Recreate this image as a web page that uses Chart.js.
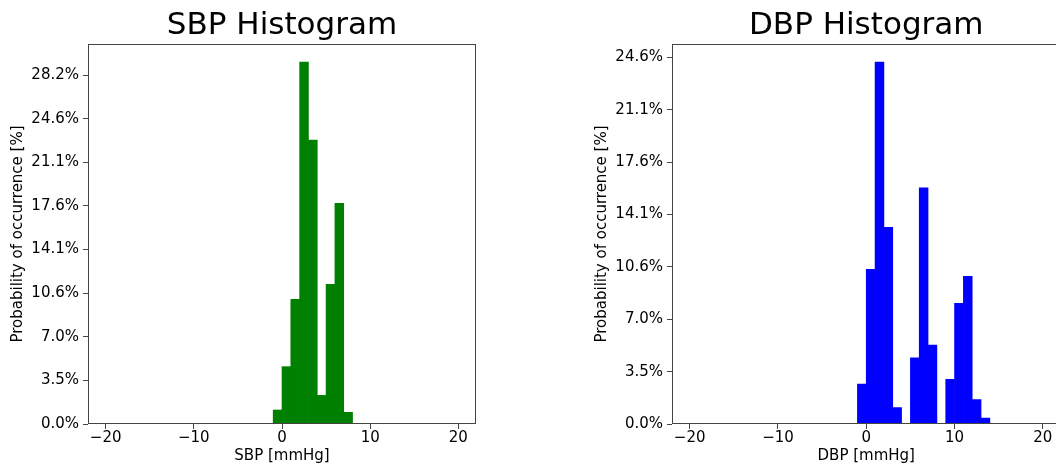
<!DOCTYPE html>
<html>
<head>
<meta charset="utf-8">
<script src="https://cdn.jsdelivr.net/npm/chart.js@4.4.1/dist/chart.umd.min.js"></script>
<style>
html,body{margin:0;padding:0;background:#fff;overflow:hidden;}
#wrap{position:relative;width:1056px;height:467px;overflow:hidden;}
#c1box{position:absolute;left:0;top:0;width:528px;height:467px;}
#c2box{position:absolute;left:584px;top:0;width:480px;height:467px;}
</style>
</head>
<body>
<div id="wrap">
<div id="c1box"><canvas id="c1"></canvas></div>
<div id="c2box"><canvas id="c2"></canvas></div>
</div>
<script>
// ---- data ----
const sbpBinCenters = [-0.5, 0.5, 1.5, 2.5, 3.5, 4.5, 5.5, 6.5, 7.5];
const sbpValues = [1.13, 4.63, 10.06, 29.22, 22.92, 2.31, 11.27, 17.81, 0.94];

const dbpBinCenters = [-0.5, 0.5, 1.5, 2.5, 3.5, 4.5, 5.5, 6.5, 7.5, 8.5, 9.5, 10.5, 11.5, 12.5, 13.5];
const dbpValues = [2.69, 10.39, 24.33, 13.22, 1.10, 0, 4.44, 15.88, 5.31, 0, 3.00, 8.11, 9.92, 1.64, 0.40];

const xTickValues = [-20, -10, 0, 10, 20];
const xTickLabels = ['\u221220', '\u221210', '0', '10', '20'];
const yTickValues = [0, 3.521, 7.042, 10.563, 14.085, 17.606, 21.127, 24.648, 28.169];
const yTickLabels = ['0.0%', '3.5%', '7.0%', '10.6%', '14.1%', '17.6%', '21.1%', '24.6%', '28.2%'];

const FONT = "'DejaVu Sans', 'Liberation Sans', sans-serif";
const SPINE = '#444';

const boxPlugin = {
  id: 'box',
  afterDraw(chart) {
    const a = chart.chartArea, ctx = chart.ctx;
    ctx.save();
    ctx.strokeStyle = SPINE;
    ctx.lineWidth = 1;
    const l = Math.round(a.left) + 0.5, t = Math.round(a.top) + 0.5;
    const r = Math.round(a.right) - 0.5, b = Math.round(a.bottom) - 0.5;
    ctx.strokeRect(l, t, r - l, b - t);
    ctx.restore();
  }
};

function makeChart(id, title, xTitle, centers, values, color, yMax, rightPad) {
  const data = centers.map((c, i) => ({x: c, y: values[i]}));
  const yVals = yTickValues.filter(v => v <= yMax);
  return new Chart(document.getElementById(id), {
    type: 'bar',
    data: {
      datasets: [{
        data: data,
        backgroundColor: color,
        borderWidth: 0,
        barPercentage: 1.0,
        categoryPercentage: 1.0
      }]
    },
    options: {
      responsive: true,
      maintainAspectRatio: false,
      animation: false,
      layout: {padding: {left: 0, right: rightPad, top: 0, bottom: 0}},
      plugins: {
        legend: {display: false},
        tooltip: {enabled: false},
        title: {
          display: true,
          text: title,
          fullSize: false,
          color: '#000',
          font: {family: FONT, size: 31, weight: 'normal', lineHeight: 1.0},
          padding: {top: 10, bottom: 3}
        }
      },
      scales: {
        x: {
          type: 'linear',
          min: -22,
          max: 22,
          offset: false,
          afterBuildTicks: (s) => { s.ticks = xTickValues.map(v => ({value: v})); },
          afterFit: (s) => { s.height = 43; },
          grid: {display: true, offset: false, drawOnChartArea: false, drawTicks: true, tickLength: 5, color: SPINE, tickColor: SPINE},
          border: {display: false},
          ticks: {
            autoSkip: false,
            maxRotation: 0,
            padding: 0,
            color: '#000',
            font: {family: FONT, size: 15},
            callback: (v, i) => xTickLabels[xTickValues.indexOf(v)]
          },
          title: {
            display: true,
            text: xTitle,
            color: '#000',
            font: {family: FONT, size: 15},
            padding: {top: 0, bottom: 2}
          }
        },
        y: {
          type: 'linear',
          min: 0,
          max: yMax,
          afterBuildTicks: (s) => { s.ticks = yVals.map(v => ({value: v})); },
          afterFit: (s) => { s.width = 88; },
          grid: {display: true, drawOnChartArea: false, drawTicks: true, tickLength: 5, color: SPINE, tickColor: SPINE},
          border: {display: false},
          ticks: {
            autoSkip: false,
            padding: 4,
            color: '#000',
            font: {family: FONT, size: 15},
            callback: (v, i) => yTickLabels[yTickValues.indexOf(v)]
          },
          title: {
            display: true,
            text: 'Probability of occurrence [%]',
            color: '#000',
            font: {family: FONT, size: 15},
            padding: {top: 9, bottom: 0}
          }
        }
      }
    },
    plugins: [boxPlugin]
  });
}

makeChart('c1', 'SBP Histogram', 'SBP [mmHg]', sbpBinCenters, sbpValues, '#008000', 30.68, 52);
makeChart('c2', 'DBP Histogram', 'DBP [mmHg]', dbpBinCenters, dbpValues, '#0000ff', 25.54, 3.5);
</script>
</body>
</html>
